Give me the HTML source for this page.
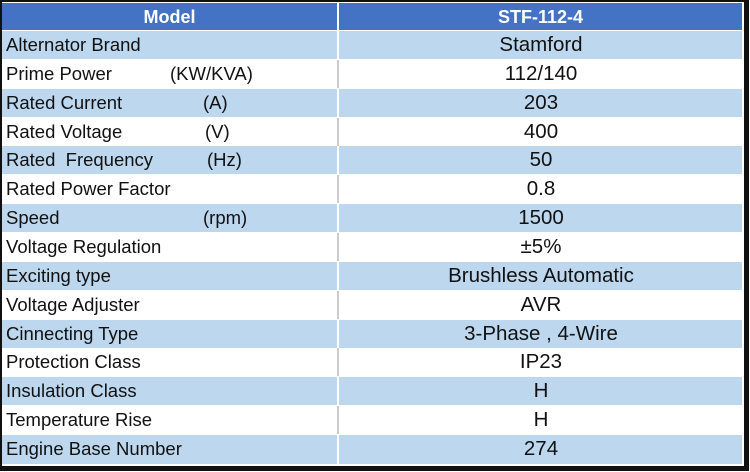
<!DOCTYPE html>
<html><head><meta charset="utf-8"><style>
body{margin:0;width:750px;height:472px;background:#fff;position:relative;overflow:hidden;font-family:"Liberation Sans",Arial,sans-serif}
.frame{position:absolute;left:0;top:0;width:742px;height:464px;border-style:solid;border-color:#111;border-width:2px 5px 5px 2px;background:#fff}
.r{position:absolute;left:2px;width:740px;height:28px;font-size:18.5px;color:#111}
.b{background:#BDD7EE}
.w{background:#fff}
.r span{position:absolute;top:3px;white-space:pre}
.v{left:338px;width:402px;text-align:center;font-size:20.5px;top:2px!important}
.div{position:absolute;left:335px;top:0;width:2px;height:100%;background:#fff}
.w .div{background:#ccc}
.h{background:#4472C4;color:#fff;font-weight:bold;font-size:18px}
</style></head><body>
<div class="frame"></div>
<div class="r h" style="top:3px;height:27px"><span style="left:0;width:335px;text-align:center;top:4px">Model</span><div class="div"></div><span style="left:337px;width:403px;text-align:center;top:4px">STF-112-4</span></div>
<div class="r b" style="top:31px"><span style="left:4px">Alternator Brand</span><div class="div"></div><span class="v">Stamford</span></div>
<div class="r w" style="top:60px"><span style="left:4px">Prime Power</span><span style="left:168px">(KW/KVA)</span><div class="div"></div><span class="v">112/140</span></div>
<div class="r b" style="top:89px"><span style="left:4px">Rated Current</span><span style="left:201px">(A)</span><div class="div"></div><span class="v">203</span></div>
<div class="r w" style="top:118px"><span style="left:4px">Rated Voltage</span><span style="left:203px">(V)</span><div class="div"></div><span class="v">400</span></div>
<div class="r b" style="top:146px"><span style="left:4px">Rated  Frequency</span><span style="left:205px">(Hz)</span><div class="div"></div><span class="v">50</span></div>
<div class="r w" style="top:175px"><span style="left:4px">Rated Power Factor</span><div class="div"></div><span class="v">0.8</span></div>
<div class="r b" style="top:204px"><span style="left:4px">Speed</span><span style="left:201px">(rpm)</span><div class="div"></div><span class="v">1500</span></div>
<div class="r w" style="top:233px"><span style="left:4px">Voltage Regulation</span><div class="div"></div><span class="v">±5%</span></div>
<div class="r b" style="top:262px"><span style="left:4px">Exciting type</span><div class="div"></div><span class="v">Brushless Automatic</span></div>
<div class="r w" style="top:291px"><span style="left:4px">Voltage Adjuster</span><div class="div"></div><span class="v">AVR</span></div>
<div class="r b" style="top:320px"><span style="left:4px">Cinnecting Type</span><div class="div"></div><span class="v">3-Phase , 4-Wire</span></div>
<div class="r w" style="top:348px"><span style="left:4px">Protection Class</span><div class="div"></div><span class="v">IP23</span></div>
<div class="r b" style="top:377px"><span style="left:4px">Insulation Class</span><div class="div"></div><span class="v">H</span></div>
<div class="r w" style="top:406px"><span style="left:4px">Temperature Rise</span><div class="div"></div><span class="v">H</span></div>
<div class="r b" style="top:435px;height:29px"><span style="left:4px">Engine Base Number</span><div class="div"></div><span class="v">274</span></div>
</body></html>
